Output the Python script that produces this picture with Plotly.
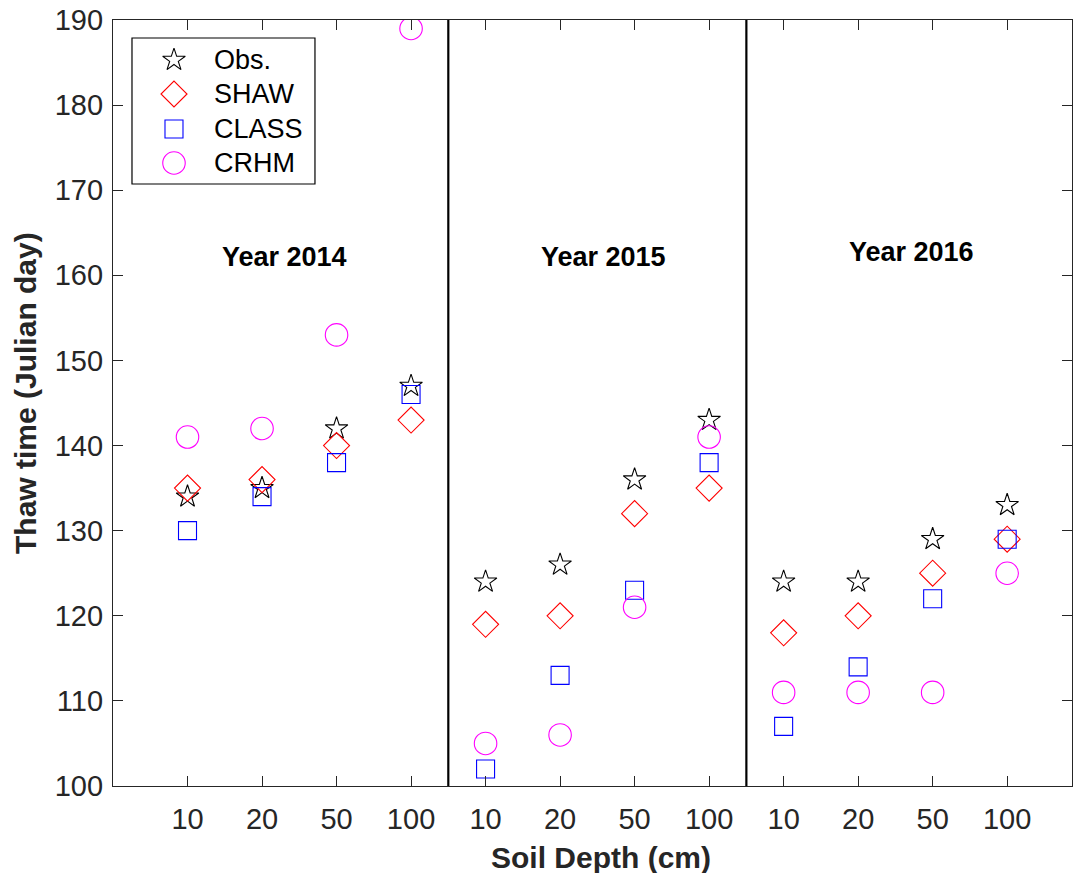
import plotly.graph_objects as go

# Thaw dates (Julian day) per soil depth, grouped by year
years = ["2014", "2015", "2016"]
depths = [10, 20, 50, 100]
obs = [134, 135, 142, 147, 124, 126, 136, 143, 124, 124, 129, 133]
shaw = [135, 136, 140, 143, 119, 120, 132, 135, 118, 120, 125, 129]
class_model = [130, 134, 138, 146, 102, 113, 123, 138, 107, 114, 122, 129]
crhm = [141, 142, 153, 189, 105, 106, 121, 141, 111, 111, 111, 125]

n_groups = len(years)
n_depth = len(depths)
xpos = list(range(1, n_groups * n_depth + 1))
tick_text = [str(d) for d in depths] * n_groups

FONT = "Arial, Liberation Sans, Helvetica, sans-serif"
AXIS_COLOR = "#262626"

series = [
    ("Obs.", obs, "star-open", 17, "#000000"),
    ("SHAW", shaw, "diamond-open", 20, "#FF0000"),
    ("CLASS", class_model, "square-open", 18, "#0000FF"),
    ("CRHM", crhm, "circle-open", 22.5, "#FF00FF"),
]

fig = go.Figure()
for name, vals, sym, size, color in series:
    fig.add_trace(go.Scatter(
        x=xpos, y=vals, mode="markers", name=name, showlegend=False,
        marker=dict(symbol=sym, size=size, color=color,
                    line=dict(color=color, width=1.1)),
    ))

# Legend drawn on an overlay axis spanning the plot area in [0, 1] units
leg_x0, leg_x1, leg_y0, leg_y1 = 0.0198, 0.2106, 0.7859, 0.9765
leg_rows = [0.9478, 0.9034, 0.8577, 0.8133]
for (name, vals, sym, size, color), ly in zip(series, leg_rows):
    fig.add_trace(go.Scatter(
        x=[0.0636], y=[ly], xaxis="x2", yaxis="y2", mode="markers",
        showlegend=False, hoverinfo="skip",
        marker=dict(symbol=sym, size=size, color=color,
                    line=dict(color=color, width=1.1)),
    ))
    fig.add_annotation(x=0.1034, y=ly, xref="x2", yref="y2", text=name,
                       showarrow=False, xanchor="left", yanchor="middle",
                       font=dict(family=FONT, size=27, color="#000000"))
fig.add_shape(type="rect", xref="x2", yref="y2", x0=leg_x0, x1=leg_x1,
              y0=leg_y0, y1=leg_y1, line=dict(color="#000000", width=1.2),
              fillcolor="rgba(255,255,255,0)", layer="below")

# Year separators between depth groups
for g in range(1, n_groups):
    xb = g * n_depth + 0.5
    fig.add_shape(type="line", xref="x", yref="y", x0=xb, x1=xb, y0=100, y1=190,
                  line=dict(color="#000000", width=2.2))

# Year labels
year_label_pos = [(2.30, 162.2), (6.58, 162.2), (10.72, 162.8)]
for yr, (lx, ly) in zip(years, year_label_pos):
    fig.add_annotation(x=lx, y=ly, xref="x", yref="y", text=f"<b>Year {yr}</b>",
                       showarrow=False, xanchor="center", yanchor="middle",
                       font=dict(family=FONT, size=27, color="#000000"))

# Axis titles
fig.add_annotation(x=0.5, y=0, xref="paper", yref="paper", xshift=8, yshift=-71,
                   text="<b>Soil Depth (cm)</b>", showarrow=False,
                   xanchor="center", yanchor="middle",
                   font=dict(family=FONT, size=30, color=AXIS_COLOR))
fig.add_annotation(x=0, y=0.5, xref="paper", yref="paper", xshift=-88, yshift=10,
                   text="<b>Thaw time (Julian day)</b>", showarrow=False,
                   textangle=-90, xanchor="center", yanchor="middle",
                   font=dict(family=FONT, size=30, color=AXIS_COLOR))

axis_common = dict(
    showgrid=False, zeroline=False, showline=True, linecolor=AXIS_COLOR,
    linewidth=1.2, mirror="ticks", ticks="inside", ticklen=10,
    tickcolor=AXIS_COLOR, tickwidth=1.2,
    tickfont=dict(family=FONT, size=29, color=AXIS_COLOR),
)

fig.update_layout(
    width=1073, height=873,
    margin=dict(l=113, r=1, t=20, b=87),
    paper_bgcolor="#FFFFFF", plot_bgcolor="#FFFFFF",
    showlegend=False,
    xaxis=dict(range=[0, 12.87], tickmode="array", tickvals=xpos,
               ticktext=tick_text, ticklabelstandoff=7, **axis_common),
    yaxis=dict(range=[100, 190], tickmode="array",
               tickvals=list(range(100, 191, 10)), ticklabelstandoff=3,
               **axis_common),
    xaxis2=dict(range=[0, 1], overlaying="x", visible=False, domain=[0, 1]),
    yaxis2=dict(range=[0, 1], overlaying="y", visible=False, domain=[0, 1]),
)

fig.write_html("out.html")
